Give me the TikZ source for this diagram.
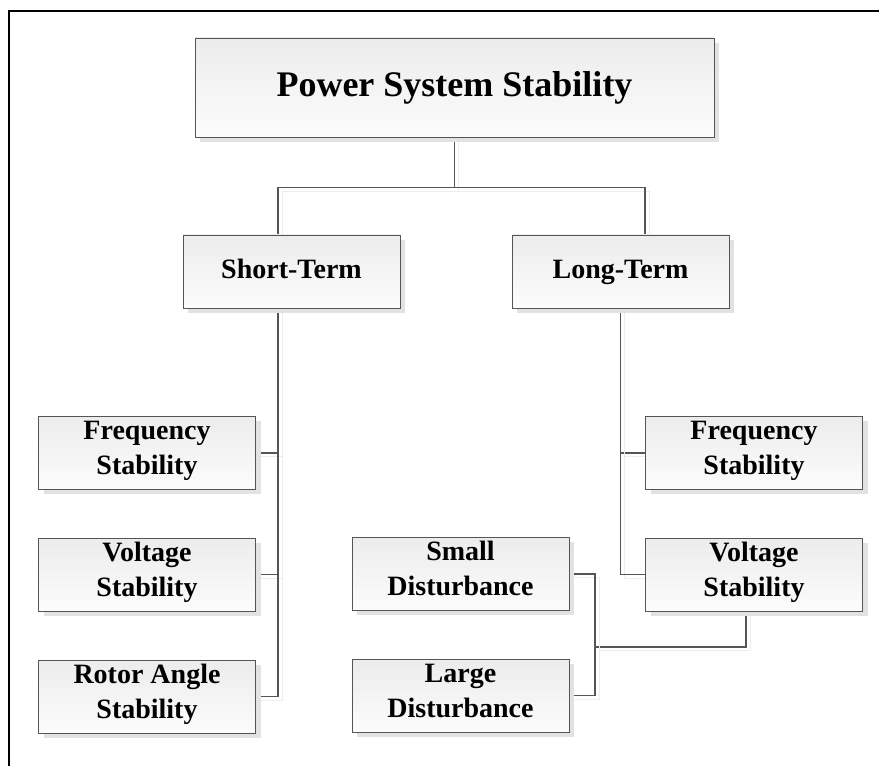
\documentclass[tikz,border=0pt]{standalone}
\usepackage{fontspec}
\setmainfont{Liberation Serif}
\usepackage{tikz}
\usetikzlibrary{positioning,shadows,backgrounds}
\definecolor{edgegrey}{HTML}{555555}
\definecolor{boxtop}{HTML}{ECECEC}
\definecolor{boxbot}{HTML}{FCFCFC}
\definecolor{shadegrey}{HTML}{E2E2E2}
\tikzset{
  stab/.style   = {draw=edgegrey, line width=0.9pt, top color=boxtop, bottom color=boxbot,
                   general shadow={fill=shadegrey, shadow xshift=5pt, shadow yshift=-5pt},
                   align=center, inner sep=2pt, minimum width=217pt, minimum height=73pt,
                   execute at begin node=\strut, execute at end node=\strut,
                   font=\fontsize{28}{35}\selectfont\bfseries},
  rootbox/.style= {stab, minimum width=519pt, minimum height=99pt,
                   font=\fontsize{36}{43}\selectfont\bfseries},
  link/.style   = {draw=edgegrey, line width=1.1pt,
                   preaction={draw=black!7, line width=1pt, transform canvas={shift={(4pt,-4pt)}}}},
  frame/.style  = {draw=black, line width=2pt},
}
\begin{document}
\begin{tikzpicture}[x=1pt,y=1pt,node distance=48pt]
  \useasboundingbox (0,0) rectangle (879,766);
  \draw[frame] (9,0) |- (879,755);
  % tree of boxes
  \node[rootbox] (pss) at (454.5,678.5) {Power System Stability};
  \node[stab] (st) at (291.5,494.5) {Short-Term};
  \node[stab] (lt) at (620.5,494.5) {Long-Term};
  \node[stab] (sfreq) at (147,313) {Frequency\\Stability};
  \node[stab,below=of sfreq] (svolt) {Voltage\\Stability};
  \node[stab,below=of svolt] (srotor) {Rotor Angle\\Stability};
  \node[stab] (lfreq) at (754,313) {Frequency\\Stability};
  \node[stab,below=of lfreq] (lvolt) {Voltage\\Stability};
  \node[stab] (small) at (460.5,192) {Small\\Disturbance};
  \node[stab,below=of small] (large) {Large\\Disturbance};
  \coordinate (join) at (595,119);
  % connectors behind the boxes
  \begin{scope}[on background layer]
    \draw[link] (pss.south) -- ++(0,-50) -| ([xshift=-13.5pt]st.north);
    \draw[link] (pss.south) -- ++(0,-50) -| ([xshift=24.5pt]lt.north);
    \draw[link] ([xshift=-13.5pt]st.south) |- (sfreq.east);
    \draw[link] ([xshift=-13.5pt]st.south) |- (svolt.east);
    \draw[link] ([xshift=-13.5pt]st.south) |- (srotor.east);
    \draw[link] (lt.south) |- (lfreq.west);
    \draw[link] (lt.south) |- (lvolt.west);
    \draw[link] ([xshift=-8pt]lvolt.south) |- (join);
    \draw[link] (small.east) -| (join);
    \draw[link] (large.east) -| (join);
  \end{scope}
\end{tikzpicture}
\end{document}
